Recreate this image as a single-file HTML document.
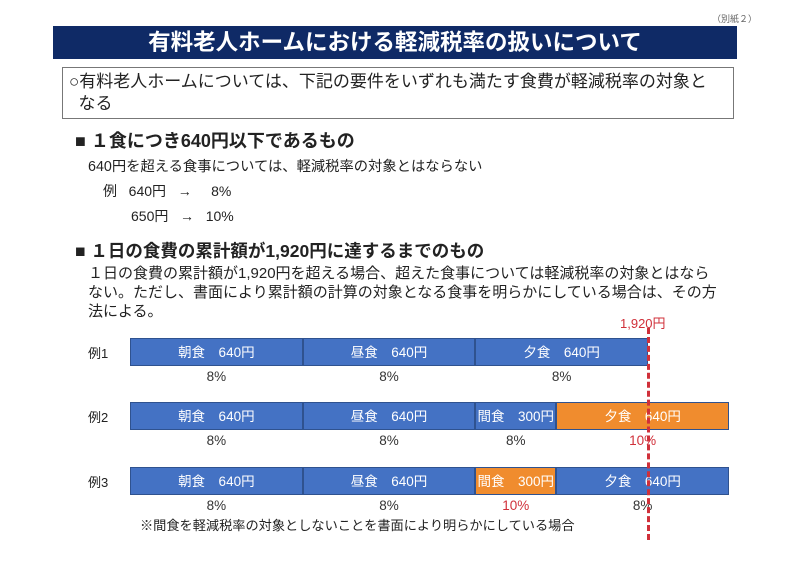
<!DOCTYPE html>
<html><head><meta charset="utf-8"><style>
body{margin:0;width:800px;height:566px;background:#fff;font-family:"Liberation Sans","Noto Sans CJK JP",sans-serif;position:relative;overflow:hidden;color:#222}
.a{position:absolute;white-space:nowrap}
</style></head><body>
<div class="a" style="left:712px;top:12px;font-size:9px;color:#666">（別紙２）</div>
<div class="a" style="left:53px;top:26px;width:684px;height:33px;background:#0f2a66;color:#fff;font-size:22.5px;font-weight:bold;text-align:center;line-height:33px">有料老人ホームにおける軽減税率の扱いについて</div>
<div class="a" style="left:62px;top:67px;width:672px;height:52px;border:1px solid #777;font-size:17px;line-height:22px;padding:3px 0 0 6px;box-sizing:border-box;white-space:normal">○有料老人ホームについては、下記の要件をいずれも満たす食費が軽減税率の対象と<br>&nbsp;&nbsp;なる</div>
<div class="a" style="left:75px;top:127px;font-size:18px;font-weight:bold">■ １食につき640円以下であるもの</div>
<div class="a" style="left:88px;top:155px;font-size:14.3px">640円を超える食事については、軽減税率の対象とはならない</div>
<div class="a" style="left:103px;top:181px;font-size:14px">例&nbsp;&nbsp;&nbsp;640円&nbsp;&nbsp;&nbsp;→&nbsp;&nbsp;&nbsp;&nbsp;&nbsp;8%</div>
<div class="a" style="left:131px;top:206px;font-size:14px">650円&nbsp;&nbsp;&nbsp;→&nbsp;&nbsp;&nbsp;10%</div>
<div class="a" style="left:75px;top:238px;font-size:17.5px;font-weight:bold">■ １日の食費の累計額が1,920円に達するまでのもの</div>
<div class="a" style="left:88px;top:264px;font-size:15px;line-height:19px">１日の食費の累計額が1,920円を超える場合、超えた食事については軽減税率の対象とはなら<br>ない。ただし、書面により累計額の計算の対象となる食事を明らかにしている場合は、その方<br>法による。</div>
<div id="chart"></div>
<div class="a" style="left:140px;top:515px;font-size:13.2px">※間食を軽減税率の対象としないことを書面により明らかにしている場合</div>
<script>
const rows=["例１","例２","例３"];
const meals=[["朝食","昼食","夕食"],["朝食","昼食","間食","夕食"],["朝食","昼食","間食","夕食"]];
const amounts=[[640,640,640],[640,640,300,640],[640,640,300,640]];
const rates=[[8,8,8],[8,8,8,10],[8,8,10,8]];
const limit=1920;
const x0=130,pxPerYen=518/1920,rowY=[338,402,467],barH=28;
const X=v=>x0+v*pxPerYen;
const c=document.getElementById('chart');
function mk(css,txt){const d=document.createElement('div');d.className='a';d.style.cssText=css;if(txt!=null)d.textContent=txt;c.appendChild(d);return d;}
rows.forEach((r,i)=>{
  const y=rowY[i];
  const l=mk(`left:88px;top:${y+5}px;font-size:13px`,r.replace('１','1').replace('２','2').replace('３','3'));
  
  
  let cum=0;
  amounts[i].forEach((v,j)=>{
    const a=X(cum),b=X(cum+v);
    const ten=rates[i][j]===10;
    const s=mk(`left:${a}px;top:${y}px;width:${b-a}px;height:${barH}px;box-sizing:border-box;background:${ten?'#f08c2e':'#4472c4'};border:1px solid #2f528f;color:#fff;font-size:13.5px;text-align:center;line-height:${barH}px`,meals[i][j]+'\u3000'+v+'円');
    
    
    const p=mk(`left:${a}px;top:${y+barH+3}px;width:${b-a}px;text-align:center;font-size:13.5px;color:${ten?'#d0303a':'#333'}`,rates[i][j]+'%');
    
    
    cum+=v;
  });
});
const lx=X(limit);
const ln=mk(`left:${lx-1}px;top:328px;height:212px;border-left:3px dashed #d0303a`);


const lt=mk(`left:${lx-28}px;top:313px;font-size:13px;color:#d0303a`,'1,920円');


</script>
</body></html>
